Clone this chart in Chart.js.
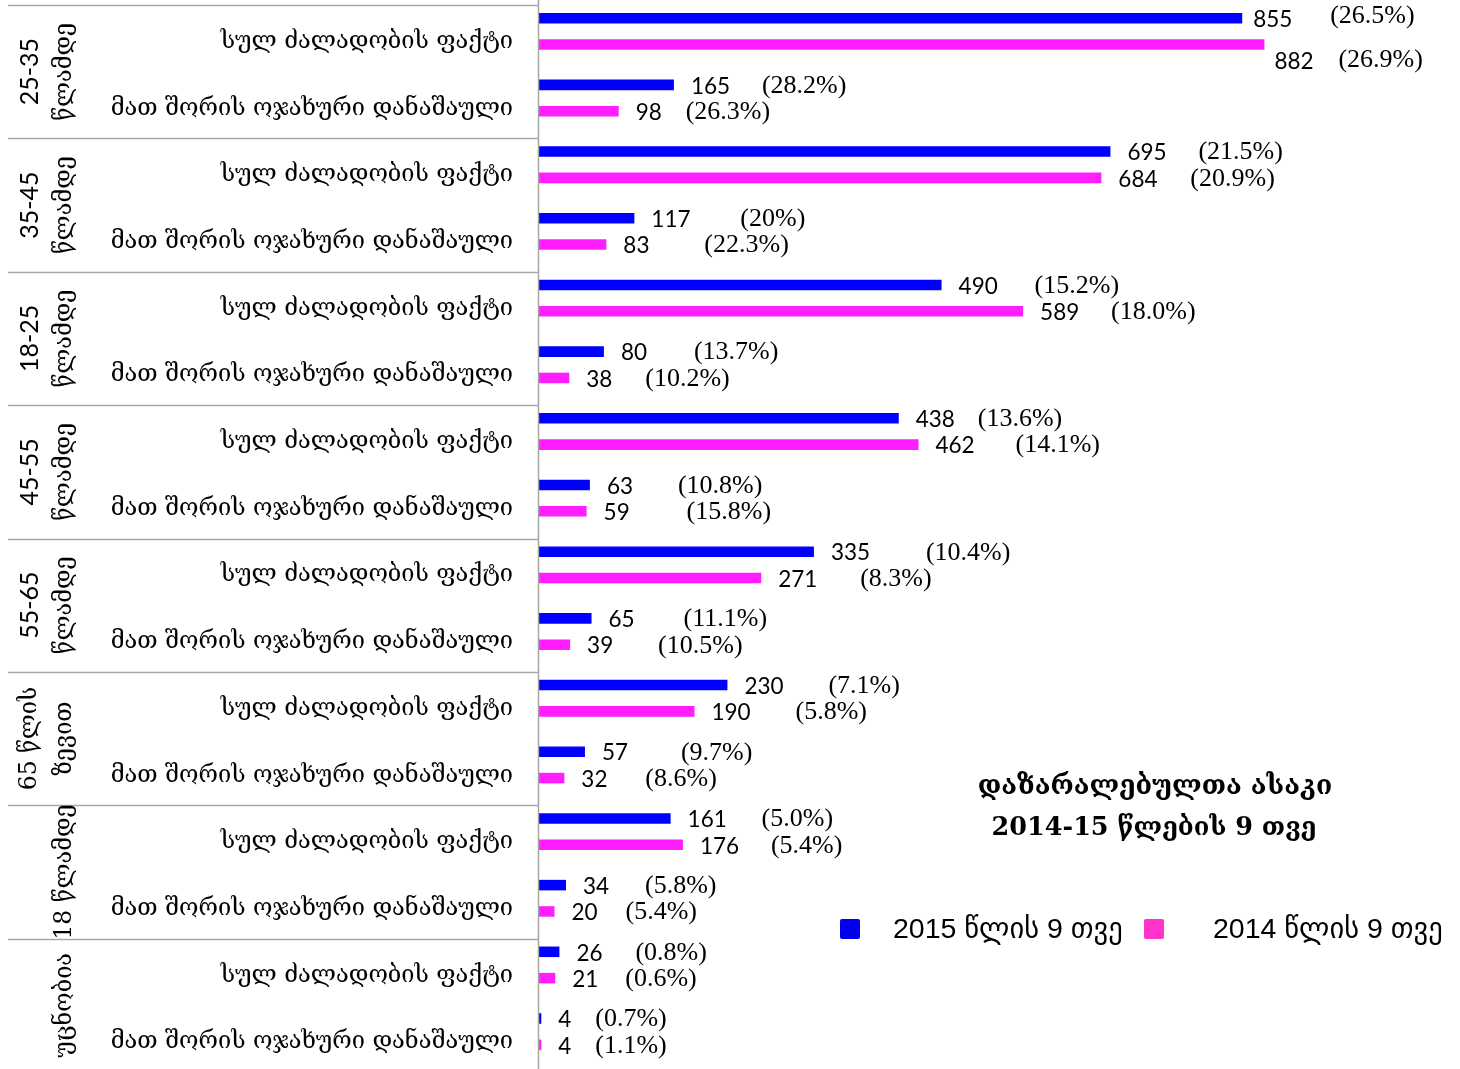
<!DOCTYPE html>
<html>
<head>
<meta charset="utf-8">
<script src="https://cdn.jsdelivr.net/npm/chart.js@4.4.1/dist/chart.umd.min.js"></script>
<style>
  html, body { margin: 0; padding: 0; background: #ffffff; overflow: hidden; width: 1460px; height: 1069px; }
  #wrap { position: absolute; left: 0; top: -2px; }
</style>
</head>
<body>
<div id="wrap"><canvas id="c" width="1460" height="1071"></canvas></div>
<script>
// ---------------- DATA ----------------
const groupLabels = [
  ['25-35', 'წლამდე'],
  ['35-45', 'წლამდე'],
  ['18-25', 'წლამდე'],
  ['45-55', 'წლამდე'],
  ['55-65', 'წლამდე'],
  ['65 წლის', 'ზევით'],
  ['18 წლამდე'],
  ['უცნობია']
];
const subLabels = ['სულ ძალადობის ფაქტი', 'მათ შორის ოჯახური დანაშაული'];
const categories = groupLabels.flatMap(() => subLabels);
const seriesNames = ['2015 წლის 9 თვე', '2014 წლის 9 თვე'];
const values2015 = [855, 165, 695, 117, 490, 80, 438, 63, 335, 65, 230, 57, 161, 34, 26, 4];
const values2014 = [882, 98, 684, 83, 589, 38, 462, 59, 271, 39, 190, 32, 176, 20, 21, 4];
const pct2015 = ['26.5%', '28.2%', '21.5%', '20%', '15.2%', '13.7%', '13.6%', '10.8%', '10.4%', '11.1%', '7.1%', '9.7%', '5.0%', '5.8%', '0.8%', '0.7%'];
const pct2014 = ['26.9%', '26.3%', '20.9%', '22.3%', '18.0%', '10.2%', '14.1%', '15.8%', '8.3%', '10.5%', '5.8%', '8.6%', '5.4%', '5.4%', '0.6%', '1.1%'];
const titleLines = ['დაზარალებულთა ასაკი', '2014-15 წლების 9 თვე'];

// ---------------- STYLE ----------------
const COL_2015 = '#0000FF';
const COL_2014 = '#FF1EFF';
const LEG_2015 = '#0000EE';
const LEG_2014 = '#FF33CC';
const LINE_COL = '#A6A6A6';
const GEO_FONT = '"DejaVu Serif", serif';
const NUM_FONT = 'Lato, "Liberation Sans", sans-serif';
const PCT_FONT = '"Liberation Serif", "DejaVu Serif", serif';
const SANS_FONT = '"Liberation Sans", "DejaVu Sans", sans-serif';
// label placement tweaks (offsets from bar end), style only
const valDx = [[-6, 0, 0, 0, 0, 0, 0, 0, 0, 0, 0, 0, 0, 0, 0, 0], [-7, 0, 0, 0, 0, 0, 0, 0, 0, 0, 0, 0, 0, 0, 0, 0]];
const valDy = [[0, 0, 0, 0, 0, 0, 0, 0, 0, 0, 0, 0, 0, 0, 0, 0], [16, 0, 0, 0, 0, 0, 0, 0, 0, 0, 0, 0, 0, 0, 0, 0]];
const pctDx = [[88, 88, 88, 106, 93, 90, 79, 88, 112, 92, 101, 96, 91, 79, 76, 54],
               [74, 67, 89, 98, 88, 76, 97, 100, 99, 88, 101, 81, 88, 71, 70, 54]];
const pctDy = [[-3, 0, 0, 0, 0, 0, 0, 0, 0, 0, 0, 0, 0, 0, 0, 0], [15, 0, 0, 0, 0, 0, 0, 0, 0, 0, 0, 0, 0, 0, 0, 0]];
const PAGE_DY = 2; // canvas is shifted up by 2px

const decor = {
  id: 'decor',
  afterDraw(chart) {
    const ctx = chart.ctx;
    const ys = chart.scales.y;
    const ca = chart.chartArea;
    const catH = (ca.bottom - ca.top) / categories.length;
    const tableOff = 7;
    ctx.save();
    // axis line
    ctx.strokeStyle = LINE_COL;
    ctx.lineWidth = 1.5;
    ctx.beginPath();
    ctx.moveTo(ca.left + 0.5, 0);
    ctx.lineTo(ca.left + 0.5, chart.height);
    ctx.stroke();
    // group separator lines
    for (let g = 0; g < groupLabels.length; g++) {
      const yTop = ys.getPixelForValue(g * 2) - catH / 2 + tableOff;
      ctx.beginPath();
      ctx.moveTo(8, Math.round(yTop) + 0.5);
      ctx.lineTo(ca.left, Math.round(yTop) + 0.5);
      ctx.stroke();
    }
    // subcategory labels
    ctx.fillStyle = '#000';
    ctx.font = '23.6px ' + GEO_FONT;
    ctx.textAlign = 'right';
    ctx.textBaseline = 'middle';
    categories.forEach((lab, i) => {
      ctx.fillText(lab, 513, ys.getPixelForValue(i) + 10.5);
    });
    // group labels (rotated)
    ctx.textAlign = 'center';
    groupLabels.forEach((lines, g) => {
      const yc = (ys.getPixelForValue(g * 2) + ys.getPixelForValue(g * 2 + 1)) / 2 + tableOff;
      const xs = lines.length === 2 ? [30, 65] : [65];
      lines.forEach((t, k) => {
        ctx.save();
        ctx.translate(xs[k], yc);
        ctx.rotate(-Math.PI / 2);
        ctx.font = (/^[0-9\-]+$/.test(t) ? '25px ' + NUM_FONT : '23.5px ' + GEO_FONT);
        ctx.fillText(t, 0, 0);
        ctx.restore();
      });
    });
    // value + pct labels
    const pcts = [pct2015, pct2014];
    chart.data.datasets.forEach((ds, d) => {
      const meta = chart.getDatasetMeta(d);
      meta.data.forEach((el, i) => {
        ctx.textAlign = 'left';
        ctx.textBaseline = 'middle';
        ctx.fillStyle = '#000';
        ctx.font = '22.5px ' + NUM_FONT;
        ctx.fillText(String(ds.data[i]), el.x + 17 + valDx[d][i], el.y + 1.5 + valDy[d][i]);
        ctx.font = '26px ' + PCT_FONT;
        ctx.fillText('(' + pcts[d][i] + ')', el.x + pctDx[d][i], el.y + 1 + pctDy[d][i]);
      });
    });
    // title
    ctx.textAlign = 'center';
    ctx.textBaseline = 'middle';
    ctx.font = 'bold 26.5px ' + GEO_FONT;
    ctx.fillText(titleLines[0], 1155, 787 + PAGE_DY);
    ctx.font = 'bold 25.5px ' + GEO_FONT;
    ctx.fillText(titleLines[1], 1154, 828 + PAGE_DY);
    // legend
    const legItems = [[840, 893, LEG_2015], [1144, 1213, LEG_2014]];
    ctx.font = '28.5px ' + SANS_FONT;
    ctx.textAlign = 'left';
    legItems.forEach(([bx, tx, col], k) => {
      ctx.fillStyle = col;
      ctx.beginPath();
      if (ctx.roundRect) ctx.roundRect(bx, 919 + PAGE_DY, 20, 20, 2); else ctx.rect(bx, 919 + PAGE_DY, 20, 20);
      ctx.fill();
      ctx.fillStyle = '#000';
      ctx.fillText(seriesNames[k], tx, 930 + PAGE_DY);
    });
    ctx.restore();
  }
};

new Chart(document.getElementById('c'), {
  type: 'bar',
  data: {
    labels: categories,
    datasets: [
      { label: seriesNames[0], data: values2015, backgroundColor: COL_2015, borderWidth: 0 },
      { label: seriesNames[1], data: values2014, backgroundColor: COL_2014, borderWidth: 0 }
    ]
  },
  options: {
    indexAxis: 'y',
    responsive: false,
    animation: false,
    devicePixelRatio: 1,
    layout: { padding: { left: 538, right: 16, top: 0, bottom: 4 } },
    datasets: { bar: { categoryPercentage: 0.79, barPercentage: 0.4 } },
    scales: {
      x: { display: false, min: 0, max: 1100 },
      y: { display: false }
    },
    plugins: { legend: { display: false }, tooltip: { enabled: false }, title: { display: false } }
  },
  plugins: [decor]
});
</script>
</body>
</html>
